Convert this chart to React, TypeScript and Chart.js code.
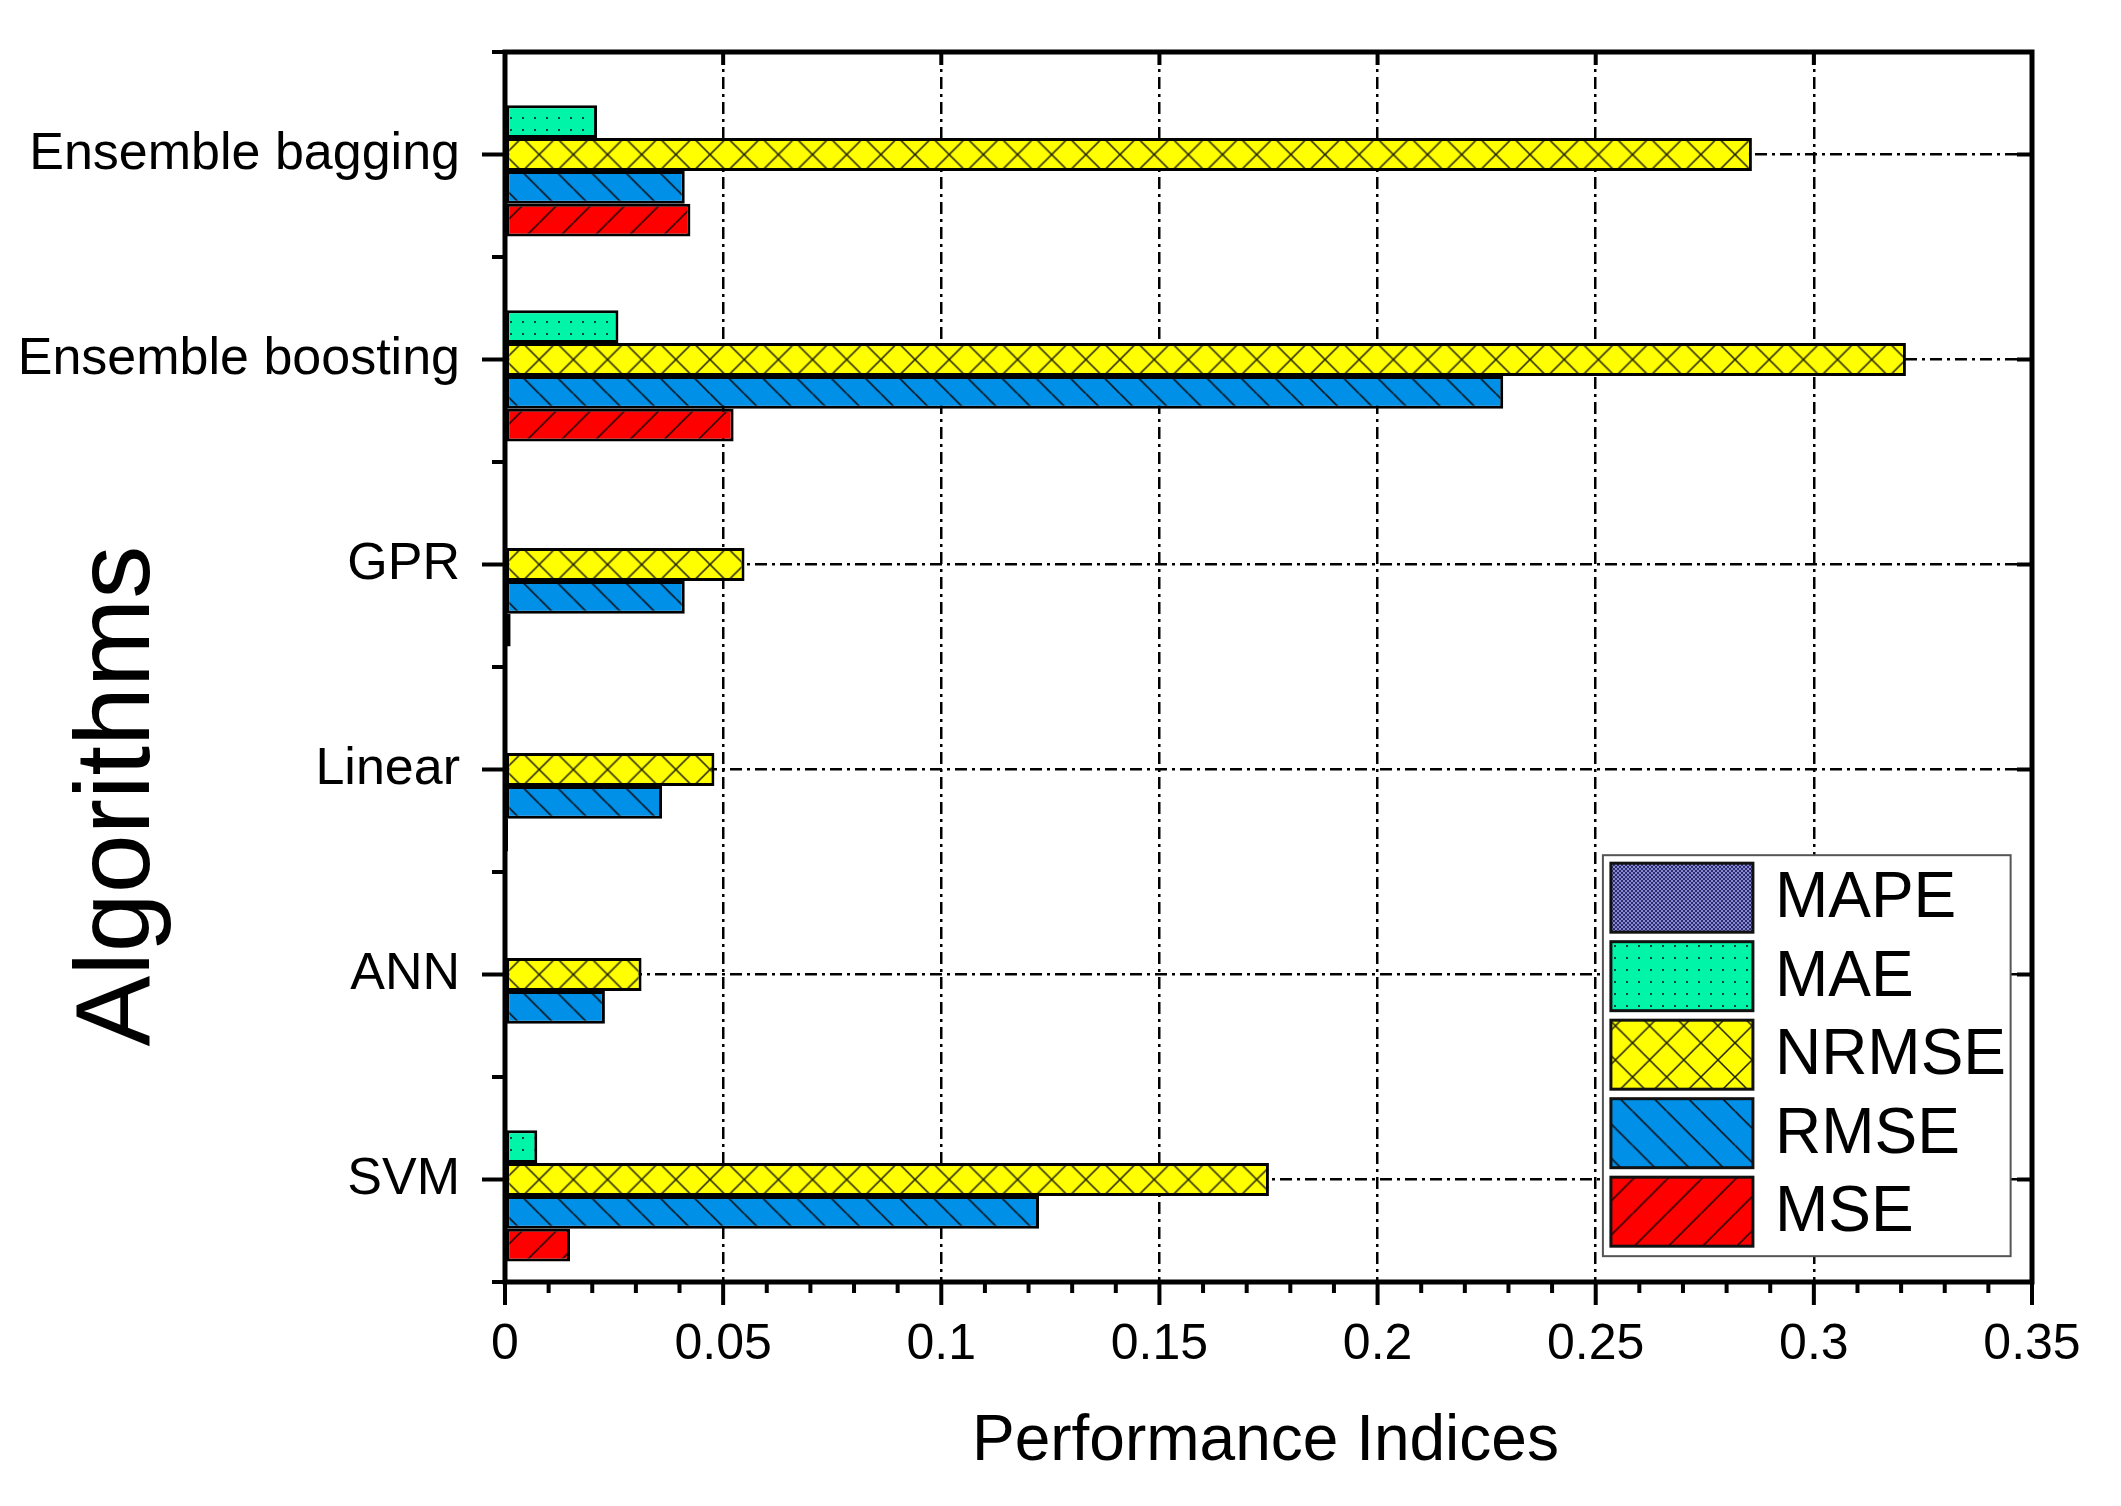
import React, { useEffect, useRef } from 'react';
import { Chart, registerables } from 'chart.js';

Chart.register(...registerables);

// ---------------- data ----------------
const categories = ['Ensemble bagging', 'Ensemble boosting', 'GPR', 'Linear', 'ANN', 'SVM'];
const seriesNames = ['MAPE', 'MAE', 'NRMSE', 'RMSE', 'MSE'];
const mapeValues = [0, 0, 0, 0, 0, 0];
const maeValues = [0.0211, 0.026, 0.0005, 0, 0, 0.0074];
const nrmseValues = [0.2858, 0.3211, 0.0549, 0.048, 0.0313, 0.1751];
const rmseValues = [0.0412, 0.2288, 0.0412, 0.036, 0.0229, 0.1224];
const mseValues = [0.0425, 0.0524, 0.0013, 0.0007, 0, 0.0149];
const xTickLabels = ['0', '0.05', '0.1', '0.15', '0.2', '0.25', '0.3', '0.35'];
const xMin = 0;
const xMax = 0.35;
const xStep = 0.05;
const xMinorStep = 0.01;
const xAxisTitle = 'Performance Indices';
const yAxisTitle = 'Algorithms';

const FONT = 'Arial, "Liberation Sans", Helvetica, sans-serif';
const W = 2121;
const H = 1506;

// ---------------- patterns ----------------
const HATCH = 34;
function makeTile(w: number, h: number, paint: (g: CanvasRenderingContext2D) => void) {
  const c = document.createElement('canvas');
  c.width = w;
  c.height = h;
  const g = c.getContext('2d') as CanvasRenderingContext2D;
  paint(g);
  return c;
}
function hatchTile(bg: string, fwd: boolean, back: boolean, lineColor: string, lw: number) {
  return makeTile(HATCH, HATCH, (g) => {
    g.fillStyle = bg;
    g.fillRect(0, 0, HATCH, HATCH);
    g.strokeStyle = lineColor;
    g.lineWidth = lw;
    g.beginPath();
    for (const k of [-HATCH, 0, HATCH]) {
      if (fwd) {
        g.moveTo(k, HATCH);
        g.lineTo(k + HATCH, 0);
      }
      if (back) {
        g.moveTo(k, 0);
        g.lineTo(k + HATCH, HATCH);
      }
    }
    g.stroke();
  });
}
function dotTile(size: number, bg: string, dot: string, pts: number[][], d: number) {
  return makeTile(size, size, (g) => {
    g.fillStyle = bg;
    g.fillRect(0, 0, size, size);
    g.fillStyle = dot;
    pts.forEach(([x, y]) => g.fillRect(x, y, d, d));
  });
}

export default function App() {
  const ref = useRef<HTMLCanvasElement | null>(null);

  useEffect(() => {
    document.body.style.margin = '0';
    document.body.style.overflow = 'hidden';
    const canvas = ref.current;
    if (!canvas) return;
    const ctx0 = canvas.getContext('2d') as CanvasRenderingContext2D;

    const pMape = ctx0.createPattern(dotTile(4, '#8888d8', '#2c2c68', [[0, 0], [2, 2]], 2), 'repeat') as CanvasPattern;
    const pMae = ctx0.createPattern(dotTile(12, '#00F5A8', '#17493a', [[5, 5]], 2), 'repeat') as CanvasPattern;
    const pNrmse = ctx0.createPattern(hatchTile('#FFFF00', true, true, '#202000', 1.5), 'repeat') as CanvasPattern;
    const pRmse = ctx0.createPattern(hatchTile('#0090E8', false, true, '#0a0a0a', 1.5), 'repeat') as CanvasPattern;
    const pMse = ctx0.createPattern(hatchTile('#FF0000', true, false, '#1a0000', 1.5), 'repeat') as CanvasPattern;
    const hatchPatterns = [pNrmse, pRmse, pMse];
    const dotPatterns = [pMape, pMae];

    const seriesValues = [mapeValues, maeValues, nrmseValues, rmseValues, mseValues];
    const fills = [pMape, pMae, pNrmse, pRmse, pMse];

    const alignPatterns = {
      id: 'alignPatterns',
      afterLayout(chart: any) {
        const a = chart.chartArea;
        const band = (a.bottom - a.top) / categories.length;
        const k = band / 6 / HATCH;
        hatchPatterns.forEach((p) => p.setTransform(new DOMMatrix().translate(a.left, a.top).scale(k)));
        dotPatterns.forEach((p) => p.setTransform(new DOMMatrix().translate(a.left, a.top)));
      },
    };

    const frameTicks = {
      id: 'frameTicks',
      afterDatasetsDraw(chart: any) {
        const { ctx, chartArea: a, scales } = chart;
        const xs = scales.x;
        const ys = scales.y;
        ctx.save();
        ctx.setLineDash([]);
        ctx.strokeStyle = '#000';
        ctx.lineWidth = 4;
        ctx.beginPath();
        // y major ticks (left outward, right inward)
        categories.forEach((_, i) => {
          const py = ys.getPixelForValue(i);
          ctx.moveTo(a.left, py);
          ctx.lineTo(a.left - 23, py);
          ctx.moveTo(a.right, py);
          ctx.lineTo(a.right - 15, py);
        });
        // y minor ticks at band boundaries
        for (let i = 0; i <= categories.length; i++) {
          const py = ys.getPixelForValue(i - 0.5);
          ctx.moveTo(a.left, py);
          ctx.lineTo(a.left - 13, py);
        }
        // x major ticks
        xs.ticks.forEach((t: any) => {
          const px = xs.getPixelForValue(t.value);
          ctx.moveTo(px, a.bottom);
          ctx.lineTo(px, a.bottom + 23);
          ctx.moveTo(px, a.top);
          ctx.lineTo(px, a.top + 13);
        });
        // x minor ticks
        const nMinor = Math.round((xMax - xMin) / xMinorStep);
        for (let i = 0; i <= nMinor; i++) {
          const px = xs.getPixelForValue(xMin + i * xMinorStep);
          ctx.moveTo(px, a.bottom);
          ctx.lineTo(px, a.bottom + 11);
        }
        ctx.stroke();
        ctx.lineWidth = 5;
        ctx.strokeRect(a.left, a.top, a.right - a.left, a.bottom - a.top);
        ctx.restore();
      },
    };

    const legendTitles = {
      id: 'legendTitles',
      afterDraw(chart: any) {
        const { ctx, chartArea: a } = chart;
        const w = a.right - a.left;
        const h = a.bottom - a.top;
        ctx.save();
        // legend
        const lx = a.left + 0.719 * w;
        const ly = a.top + 0.653 * h;
        const lw = 0.267 * w;
        const lh = 0.326 * h;
        ctx.fillStyle = '#fff';
        ctx.fillRect(lx, ly, lw, lh);
        ctx.strokeStyle = '#555';
        ctx.lineWidth = 2;
        ctx.setLineDash([]);
        ctx.strokeRect(lx, ly, lw, lh);
        const pitch = 78.5;
        const sw = 142;
        const sh = 69;
        chart.data.datasets.forEach((ds: any, i: number) => {
          const sx = lx + 8;
          const sy = ly + 8 + i * pitch;
          ctx.fillStyle = ds.backgroundColor;
          ctx.fillRect(sx, sy, sw, sh);
          ctx.strokeStyle = '#111';
          ctx.lineWidth = 3;
          ctx.strokeRect(sx, sy, sw, sh);
          ctx.fillStyle = '#000';
          ctx.font = `64px ${FONT}`;
          ctx.textAlign = 'left';
          ctx.textBaseline = 'middle';
          ctx.fillText(ds.label, lx + 172, sy + sh / 2 + 2);
        });
        // x title
        ctx.fillStyle = '#000';
        ctx.font = `64px ${FONT}`;
        ctx.textAlign = 'center';
        ctx.textBaseline = 'alphabetic';
        ctx.fillText(xAxisTitle, a.left + 0.498 * w, a.bottom + 178);
        // y title
        ctx.save();
        ctx.translate(a.left - 356, a.top + 0.605 * h);
        ctx.rotate(-Math.PI / 2);
        ctx.font = `106px ${FONT}`;
        ctx.textAlign = 'center';
        ctx.textBaseline = 'alphabetic';
        ctx.fillText(yAxisTitle, 0, 0);
        ctx.restore();
        ctx.restore();
      },
    };

    const chart = new Chart(canvas, {
      type: 'bar',
      data: {
        labels: categories,
        datasets: seriesNames.map((name, i) => ({
          label: name,
          data: seriesValues[i],
          backgroundColor: fills[i],
          borderColor: '#000',
          borderWidth: 3,
          borderSkipped: false,
          categoryPercentage: 0.8,
          barPercentage: 1.0,
        })),
      },
      options: {
        indexAxis: 'y',
        responsive: false,
        animation: false,
        events: [],
        layout: { padding: { left: 0, right: 89, top: 52, bottom: 0 } },
        plugins: {
          legend: { display: false },
          tooltip: { enabled: false },
          title: { display: false },
        },
        scales: {
          x: {
            type: 'linear',
            position: 'bottom',
            min: xMin,
            max: xMax,
            afterFit: (s: any) => {
              s.height = 224;
              s.paddingLeft = 0;
              s.paddingRight = 0;
            },
            ticks: {
              stepSize: xStep,
              autoSkip: false,
              maxRotation: 0,
              padding: 33,
              color: '#000',
              font: { family: FONT, size: 50 },
              callback: (_v: any, i: number) => xTickLabels[i],
            },
            grid: {
              drawTicks: false,
              color: '#000',
              lineWidth: 2.5,
            },
            border: { display: false, dash: [12, 5, 3, 5] },
          },
          y: {
            type: 'category',
            position: 'left',
            offset: true,
            afterFit: (s: any) => {
              s.width = 505;
              s.paddingTop = 0;
              s.paddingBottom = 0;
            },
            ticks: {
              autoSkip: false,
              padding: 45,
              color: '#000',
              font: { family: FONT, size: 52 },
            },
            grid: {
              offset: false,
              drawTicks: false,
              color: '#000',
              lineWidth: 2.5,
            },
            border: { display: false, dash: [12, 5, 3, 5] },
          },
        },
      },
      plugins: [alignPatterns, frameTicks, legendTitles],
    } as any);

    return () => {
      chart.destroy();
    };
  }, []);

  return (
    <div style={{ width: W, height: H, position: 'relative', background: '#fff' }}>
      <canvas ref={ref} width={W} height={H} style={{ display: 'block' }} />
    </div>
  );
}
